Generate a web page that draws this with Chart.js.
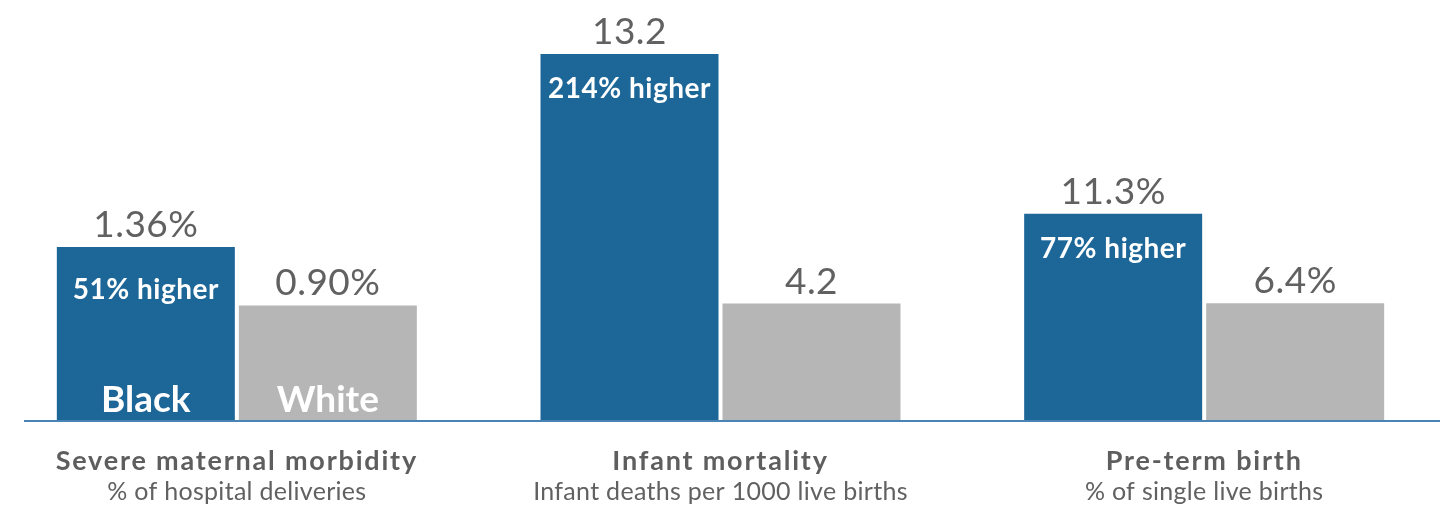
<!DOCTYPE html>
<html><head><meta charset="utf-8">
<script src="https://cdn.jsdelivr.net/npm/chart.js@4/dist/chart.umd.min.js"></script>
<style>
html,body{margin:0;padding:0;background:#fff;overflow:hidden;width:1454px;height:519px;}
#wrap{position:absolute;left:-5px;top:0;width:1451px;height:519px;}
</style></head><body>
<div id="wrap"><canvas id="c"></canvas></div>
<script>
const categories = ['Severe maternal morbidity', 'Infant mortality', 'Pre-term birth'];
const subtitles = ['% of hospital deliveries', 'Infant deaths per 1000 live births', '% of single live births'];
const seriesNames = ['Black', 'White'];
const blackValues = [1.36, 13.2, 11.3];
const whiteValues = [0.90, 4.2, 6.4];
const blackLabels = ['1.36%', '13.2', '11.3%'];
const whiteLabels = ['0.90%', '4.2', '6.4%'];
const gapLabels = ['51% higher', '214% higher', '77% higher'];

const BLUE = '#1c6698';
const GRAY = '#b5b6b5';
const TEXT = '#616161';
const axisMax = [3.3, 15.15, 23];
const gapOffset = [52, 44, 44];

const datasets = [];
categories.forEach((c, g) => {
  datasets.push({
    label: seriesNames[0] + ' - ' + c,
    data: categories.map((_, i) => i === g ? blackValues[g] : null),
    backgroundColor: BLUE,
    yAxisID: 'y' + g,
    skipNull: true
  });
  datasets.push({
    label: seriesNames[1] + ' - ' + c,
    data: categories.map((_, i) => i === g ? whiteValues[g] : null),
    backgroundColor: GRAY,
    yAxisID: 'y' + g,
    skipNull: true
  });
});

const scales = {
  x: { display: false, grid: { display: false } }
};
axisMax.forEach((m, g) => {
  scales['y' + g] = { display: false, min: 0, max: m, grid: { display: false } };
});

function spaced(ctx, px) {
  if ('letterSpacing' in ctx) ctx.letterSpacing = px + 'px';
}

const labelPlugin = {
  id: 'labels',
  afterDatasetsDraw(chart) {
    const ctx = chart.ctx;
    const xs = chart.scales.x;
    const bottom = chart.chartArea.bottom;
    ctx.save();
    ctx.strokeStyle = '#4a84b6';
    ctx.lineWidth = 2;
    ctx.beginPath();
    ctx.moveTo(29, bottom + 1);
    ctx.lineTo(1445, bottom + 1);
    ctx.stroke();
    ctx.textAlign = 'center';
    ctx.textBaseline = 'alphabetic';
    categories.forEach((c, g) => {
      const b = chart.getDatasetMeta(2 * g).data[g];
      const w = chart.getDatasetMeta(2 * g + 1).data[g];
      spaced(ctx, 0.5);
      ctx.fillStyle = TEXT;
      ctx.font = '400 37px Lato';
      ctx.fillText(blackLabels[g], b.x, b.y - 10);
      ctx.fillText(whiteLabels[g], w.x, w.y - 10);
      spaced(ctx, 0.5);
      ctx.fillStyle = '#ffffff';
      ctx.font = '700 28px Lato';
      ctx.fillText(gapLabels[g], b.x, b.y + gapOffset[g]);
      if (g === 0) {
        spaced(ctx, 0);
        ctx.font = '700 37px Lato';
        ctx.fillText(seriesNames[0], b.x, bottom - 8);
        ctx.fillText(seriesNames[1], w.x, bottom - 8);
      }
      const cx = xs.getPixelForValue(g);
      spaced(ctx, 1.8);
      ctx.fillStyle = '#5e5e5e';
      ctx.font = '700 27px Lato';
      ctx.fillText(c, cx, 470);
      spaced(ctx, 0.3);
      ctx.fillStyle = TEXT;
      ctx.font = '400 25px Lato';
      ctx.fillText(subtitles[g], cx, 500);
    });
    ctx.restore();
  }
};

new Chart(document.getElementById('c'), {
  type: 'bar',
  data: { labels: categories, datasets },
  options: {
    responsive: true,
    maintainAspectRatio: false,
    animation: false,
    layout: { padding: { left: 0, right: 0, top: 0, bottom: 99 } },
    datasets: { bar: { barPercentage: 178 / 182, categoryPercentage: 364 / 483.67 } },
    scales,
    plugins: { legend: { display: false }, tooltip: { enabled: false } }
  },
  plugins: [labelPlugin]
});
</script>
</body></html>
